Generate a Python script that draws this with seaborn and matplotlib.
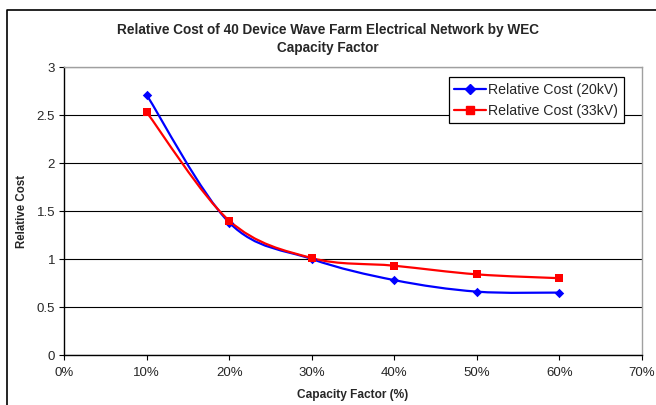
import numpy as np
import pandas as pd
import matplotlib
matplotlib.use("Agg")
import matplotlib.pyplot as plt
from matplotlib.path import Path
from matplotlib.patches import PathPatch
from matplotlib.lines import Line2D
import seaborn as sns

capacity = [10, 20, 30, 40, 50, 60]
cost_20kv = [2.71, 1.38, 1.00, 0.78, 0.66, 0.65]
cost_33kv = [2.53, 1.40, 1.01, 0.93, 0.84, 0.80]
x_ticks = [0, 10, 20, 30, 40, 50, 60, 70]
y_ticks = [0, 0.5, 1, 1.5, 2, 2.5, 3]

sns.set_theme(style="white")
plt.rcParams["font.family"] = ["Liberation Sans", "DejaVu Sans"]


def smooth_path(xs, ys):
    # Excel-style smoothed line: cubic Bezier segments, Catmull-Rom control points
    pts = np.column_stack([xs, ys]).astype(float)
    verts = [pts[0]]
    codes = [Path.MOVETO]
    n = len(pts)
    for i in range(n - 1):
        p0 = pts[i - 1] if i > 0 else pts[i]
        p1, p2 = pts[i], pts[i + 1]
        p3 = pts[i + 2] if i + 2 < n else pts[i + 1]
        c1 = p1 + (p2 - p0) / 6
        c2 = p2 - (p3 - p1) / 6
        verts += [c1, c2, p2]
        codes += [Path.CURVE4] * 3
    return Path(verts, codes)


df = pd.DataFrame({
    "capacity": capacity * 2,
    "cost": cost_20kv + cost_33kv,
    "series": ["Relative Cost (20kV)"] * 6 + ["Relative Cost (33kV)"] * 6,
})

W, H = 656, 405
fig = plt.figure(figsize=(W / 100, H / 100), dpi=100)
ax = fig.add_axes([64 / W, 1 - 355 / H, (642 - 64) / W, (355 - 67) / H])

styles = {
    "Relative Cost (20kV)": ("#0000ff", "D", 4.8, cost_20kv),
    "Relative Cost (33kV)": ("#ff0000", "s", 5.2, cost_33kv),
}
handles = []
for name, (color, marker, ms, vals) in styles.items():
    ax.add_patch(PathPatch(smooth_path(capacity, vals), facecolor="none",
                           edgecolor=color, lw=1.6, zorder=3))
    sub = df[df["series"] == name]
    sns.scatterplot(data=sub, x="capacity", y="cost", ax=ax, color=color,
                    marker=marker, s=ms ** 2, edgecolor=color, linewidth=0,
                    zorder=4, legend=False)
    handles.append(Line2D([], [], color=color, lw=1.6, marker=marker,
                          markersize=ms, label=name))

ax.set_xlim(0, 70)
ax.set_ylim(0, 3)
ax.set_xticks(x_ticks)
ax.set_xticklabels([f"{t}%" for t in x_ticks], fontsize=9.5)
ax.set_yticks(y_ticks)
ax.set_yticklabels([f"{t:g}" for t in y_ticks], fontsize=9.5)
ax.tick_params(axis="both", direction="out", length=3.5, width=0.8,
               color="black", bottom=True, left=True)
ax.tick_params(axis="x", pad=5)
ax.tick_params(axis="y", pad=3)
ax.yaxis.grid(True, color="black", lw=0.8)
ax.set_axisbelow(True)
for side in ["top", "right"]:
    ax.spines[side].set_color("#a0a0a0")
    ax.spines[side].set_linewidth(1)
for side in ["left", "bottom"]:
    ax.spines[side].set_color("black")
    ax.spines[side].set_linewidth(1)

ax.set_xlabel("Capacity Factor (%)", fontsize=8.6, fontweight="bold")
ax.set_ylabel("Relative Cost", fontsize=8.3, fontweight="bold")
ax.xaxis.set_label_coords(0.5, (355 - 395) / 288)
ax.yaxis.set_label_coords((22 - 64) / 578, 0.5)
ax.xaxis.label.set_va("center")
ax.yaxis.label.set_va("center")

leg = ax.legend(handles=handles, loc="upper right",
                bbox_to_anchor=((624 - 64) / 578, (355 - 77) / 288),
                fontsize=10.2, frameon=True, fancybox=False, framealpha=1,
                edgecolor="black", borderpad=0.4, handlelength=2.2,
                handletextpad=0.2, labelspacing=0.5, borderaxespad=0)
leg.get_frame().set_linewidth(0.9)

fig.text(0.5, 1 - 39 / H, "Relative Cost of 40 Device Wave Farm Electrical Network by WEC\nCapacity Factor",
         ha="center", va="center", fontsize=9.8, fontweight="bold", linespacing=1.3)

# chart-area border (left and top edges visible in the crop)
fig.add_artist(Line2D([7 / W, 7 / W, 1], [0, 1 - 10 / H, 1 - 10 / H],
                      transform=fig.transFigure, color="black", lw=1.2))

fig.savefig("out.png", dpi=100)
